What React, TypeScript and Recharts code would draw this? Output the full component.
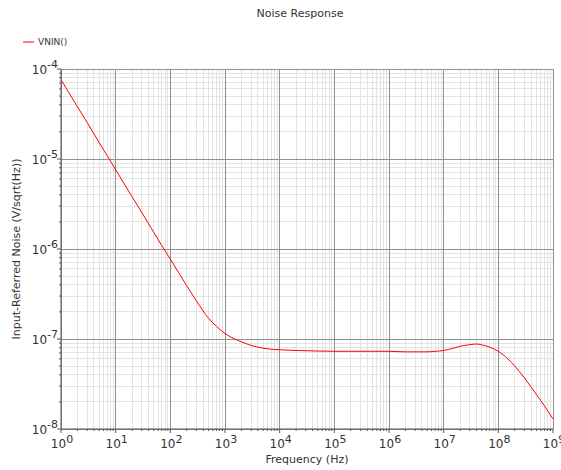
import { LineChart, Line, XAxis, YAxis, ReferenceLine } from 'recharts'

const frequency = [
  1, 2, 3, 5, 7, 10, 20, 30, 50, 70, 100, 200, 300, 500, 700, 1e3, 1.5e3, 2e3, 3e3, 5e3, 7e3,
  1e4, 2e4, 5e4, 1e5, 2e5, 5e5, 1e6, 2e6, 5e6, 7e6, 1e7, 1.5e7, 2e7, 3e7, 4e7, 5e7, 7e7, 1e8,
  1.5e8, 2e8, 3e8, 5e8, 7e8, 1e9,
]
const vnin = [
  7.6e-5, 3.8e-5, 2.55e-5, 1.52e-5, 1.09e-5, 7.6e-6, 3.8e-6, 2.55e-6, 1.52e-6, 1.09e-6, 7.7e-7,
  3.9e-7, 2.65e-7, 1.7e-7, 1.38e-7, 1.15e-7, 1.0e-7, 9.3e-8, 8.5e-8, 7.9e-8, 7.7e-8, 7.6e-8,
  7.45e-8, 7.35e-8, 7.3e-8, 7.3e-8, 7.3e-8, 7.3e-8, 7.2e-8, 7.2e-8, 7.3e-8, 7.45e-8, 7.9e-8,
  8.3e-8, 8.65e-8, 8.8e-8, 8.6e-8, 8.1e-8, 7.3e-8, 6.0e-8, 5.0e-8, 3.7e-8, 2.4e-8, 1.8e-8, 1.29e-8,
]

const xDecades = [1, 10, 100, 1e3, 1e4, 1e5, 1e6, 1e7, 1e8, 1e9]
const yDecades = [1e-8, 1e-7, 1e-6, 1e-5, 1e-4]
const minorSteps = [2, 3, 4, 5, 6, 7, 8, 9]

const xMinor = xDecades.slice(0, -1).flatMap((d) => minorSteps.map((m) => m * d))
const yMinor = yDecades.slice(0, -1).flatMap((d) => minorSteps.map((m) => m * d))

const data = frequency.map((f, i) => ({ f, v: vnin[i] }))

const FONT = '"DejaVu Sans", sans-serif'
const TEXT = '#333'
const MAJOR = '#919191'
const MINOR = '#e3e3e3'
const AXIS = '#555'

const isMajor = (v: number, list: number[]) => list.includes(v)

function XTick({ x, y, payload }: any) {
  const v = payload.value
  const major = isMajor(v, xDecades)
  return (
    <g>
      <line x1={x} x2={x} y1={y} y2={y + (major ? 4 : 2)} stroke={AXIS} />
      {major && (
        <text x={x + 1} y={y + 19} textAnchor="middle" fill={TEXT} fontFamily={FONT}>
          <tspan fontSize={12}>10</tspan>
          <tspan fontSize={11} dy={-5}>{Math.round(Math.log10(v))}</tspan>
        </text>
      )}
    </g>
  )
}

function YTick({ x, y, payload }: any) {
  const v = payload.value
  const major = isMajor(v, yDecades)
  return (
    <g>
      <line x1={x} x2={x - (major ? 4 : 2)} y1={y} y2={y} stroke={AXIS} />
      {major && (
        <text x={x - 3} y={y + 5} textAnchor="end" fill={TEXT} fontFamily={FONT}>
          <tspan fontSize={12}>10</tspan>
          <tspan fontSize={11} dy={-6}>{Math.round(Math.log10(v))}</tspan>
        </text>
      )}
    </g>
  )
}

function YTitle({ viewBox }: any) {
  const cy = viewBox.y + viewBox.height / 2
  return (
    <text
      x={20}
      y={cy}
      transform={`rotate(-90 20 ${cy})`}
      textAnchor="middle"
      fontSize={11}
      fontFamily={FONT}
      fill={TEXT}
    >
      Input-Referred Noise (V/sqrt(Hz))
    </text>
  )
}

function XTitle({ viewBox }: any) {
  return (
    <text
      x={viewBox.x + viewBox.width / 2}
      y={viewBox.y + 34}
      textAnchor="middle"
      fontSize={11}
      fontFamily={FONT}
      fill={TEXT}
    >
      Frequency (Hz)
    </text>
  )
}

export default function App() {
  return (
    <div style={{ position: 'absolute', left: 0, top: 0, width: 561, height: 470, background: '#fff' }}>
      <div
        style={{
          position: 'absolute',
          top: 7,
          left: 0,
          width: 600,
          textAlign: 'center',
          fontFamily: FONT,
          fontSize: 11,
          color: TEXT,
        }}
      >
        Noise Response
      </div>
      {/* legend kept outside the chart so it does not shift the plot area */}
      <div
        style={{
          position: 'absolute',
          top: 37,
          left: 23,
          display: 'flex',
          alignItems: 'center',
          fontFamily: FONT,
          fontSize: 9,
          color: TEXT,
        }}
      >
        <svg width={11} height={2} style={{ marginRight: 4 }}>
          <line x1={0} x2={11} y1={1} y2={1} stroke="#ff0000" />
        </svg>
        VNIN()
      </div>
      <LineChart width={561} height={470} data={data} margin={{ top: 69, right: 8, bottom: 0, left: 0 }}>
        {xMinor.map((v) => (
          <ReferenceLine key={`xm${v}`} x={v} stroke={MINOR} shapeRendering="crispEdges" />
        ))}
        {yMinor.map((v) => (
          <ReferenceLine key={`ym${v}`} y={v} stroke={MINOR} shapeRendering="crispEdges" />
        ))}
        {xDecades.map((v) => (
          <ReferenceLine key={`xM${v}`} x={v} stroke={MAJOR} shapeRendering="crispEdges" />
        ))}
        {yDecades.map((v) => (
          <ReferenceLine key={`yM${v}`} y={v} stroke={MAJOR} shapeRendering="crispEdges" />
        ))}
        <XAxis
          dataKey="f"
          type="number"
          scale="log"
          domain={[1, 1e9]}
          ticks={[...xDecades, ...xMinor]}
          allowDataOverflow
          height={41}
          tickSize={0}
          tickMargin={0}
          tickLine={false}
          tick={<XTick />}
          interval={0}
          axisLine={{ stroke: AXIS }}
          label={<XTitle />}
        />
        <YAxis
          type="number"
          scale="log"
          domain={[1e-8, 1e-4]}
          ticks={[...yDecades, ...yMinor]}
          allowDataOverflow
          width={61}
          tickSize={0}
          tickMargin={0}
          tickLine={false}
          tick={<YTick />}
          interval={0}
          axisLine={{ stroke: AXIS }}
          label={<YTitle />}
        />
        <Line
          type="monotone"
          dataKey="v"
          stroke="#ff0000"
          strokeWidth={1}
          dot={false}
          isAnimationActive={false}
        />
      </LineChart>
    </div>
  )
}
